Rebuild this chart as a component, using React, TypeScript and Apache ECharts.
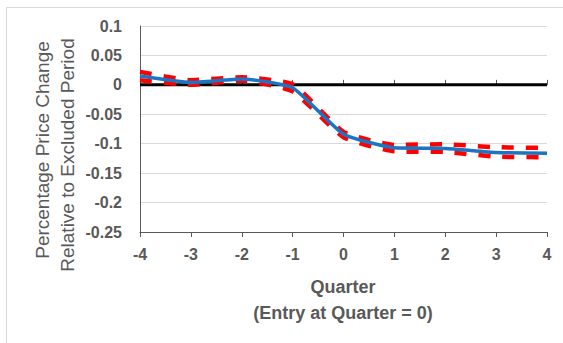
import React, { useEffect, useRef } from "react";
import * as echarts from "echarts";

const quarters = [-4, -3, -2, -1, 0, 1, 2, 3, 4];
const estimate = [0.015, 0.004, 0.01, -0.005, -0.084, -0.107, -0.108, -0.115, -0.116];
const upperBound = [0.022, 0.008, 0.013, 0.001, -0.08, -0.102, -0.101, -0.106, -0.107];
const lowerBound = [0.008, 0.0, 0.007, -0.011, -0.089, -0.113, -0.114, -0.122, -0.123];
const zeroLine = [-4, 4];

const yTitle1 = "Percentage Price Change";
const yTitle2 = "Relative to Excluded Period";
const xTitle1 = "Quarter";
const xTitle2 = "(Entry at Quarter = 0)";

const gray = "#595959";
const font = "'Liberation Sans', Arial, sans-serif";

export default function App() {
  const ref = useRef<HTMLDivElement>(null);
  useEffect(() => {
    document.body.style.margin = "0";
    const chart = echarts.init(ref.current!, null, { renderer: "svg" });
    const pair = (arr: number[]) => quarters.map((q, i) => [q, arr[i]]);
    const axisBase = {
      type: "value",
      min: -4,
      max: 4,
      interval: 1,
      splitLine: { show: false },
      axisLine: { show: true, onZero: false, lineStyle: { color: gray, width: 1 } },
    };
    chart.setOption({
      animation: false,
      backgroundColor: "#ffffff",
      grid: { left: 140, right: 16, top: 26, bottom: 111 },
      xAxis: [
        {
          ...axisBase,
          axisTick: { show: true, length: 5, lineStyle: { color: gray } },
          axisLabel: { color: gray, fontWeight: "bold", fontSize: 16, fontFamily: font, margin: 14 },
        },
        {
          ...axisBase,
          position: "bottom",
          axisLine: { show: false },
          axisTick: { show: true, inside: true, length: 5, lineStyle: { color: gray } },
          axisLabel: { show: false },
        },
      ],
      yAxis: {
        type: "value",
        min: -0.25,
        max: 0.1,
        interval: 0.05,
        axisLine: { show: true, onZero: false, lineStyle: { color: gray, width: 1 } },
        axisTick: { show: false },
        splitLine: { show: true, lineStyle: { color: "#d9d9d9", width: 1 } },
        axisLabel: {
          color: gray,
          fontWeight: "bold",
          fontSize: 16,
          fontFamily: font,
          margin: 18,
          formatter: (v: number) => String(Math.round(v * 100) / 100),
        },
      },
      series: [
        {
          type: "line",
          data: zeroLine.map((x) => [x, 0]),
          showSymbol: false,
          lineStyle: { color: "#000000", width: 3 },
          z: 1,
        },
        {
          type: "line",
          data: pair(upperBound),
          smooth: 0.15,
          showSymbol: false,
          lineStyle: { color: "#ff0000", width: 4.5, type: [12, 12] },
          z: 2,
        },
        {
          type: "line",
          data: pair(lowerBound),
          smooth: 0.15,
          showSymbol: false,
          lineStyle: { color: "#ff0000", width: 4.5, type: [12, 12] },
          z: 2,
        },
        {
          type: "line",
          data: pair(estimate),
          smooth: 0.15,
          showSymbol: false,
          lineStyle: { color: "#1a75c4", width: 3.5 },
          z: 3,
        },
      ],
      graphic: [
        {
          type: "rect",
          shape: { x: 6.5, y: 7.5, width: 600, height: 400 },
          style: { fill: "none", stroke: "#d9d9d9", lineWidth: 1 },
          silent: true,
        },
        {
          type: "text",
          x: 42,
          y: 150,
          rotation: Math.PI / 2,
          style: {
            text: yTitle1,
            fill: gray,
            font: `19px ${font}`,
            align: "center",
            verticalAlign: "middle",
          },
        },
        {
          type: "text",
          x: 67,
          y: 155,
          rotation: Math.PI / 2,
          style: {
            text: yTitle2,
            fill: gray,
            font: `19px ${font}`,
            align: "center",
            verticalAlign: "middle",
          },
        },
        {
          type: "text",
          x: 343,
          y: 287,
          style: {
            text: xTitle1,
            fill: gray,
            font: `bold 18px ${font}`,
            align: "center",
            verticalAlign: "middle",
          },
        },
        {
          type: "text",
          x: 343,
          y: 313,
          style: {
            text: xTitle2,
            fill: gray,
            font: `bold 18px ${font}`,
            align: "center",
            verticalAlign: "middle",
          },
        },
      ],
    });
    return () => chart.dispose();
  }, []);
  return <div ref={ref} style={{ width: 563, height: 343 }} />;
}
